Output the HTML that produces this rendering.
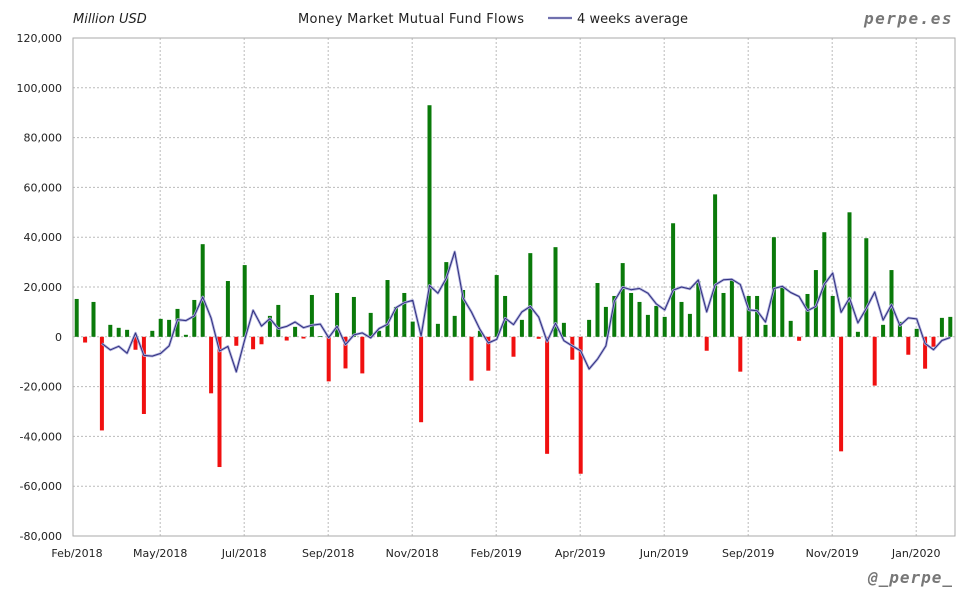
<!DOCTYPE html>
<html><head><meta charset="utf-8"><style>
body{margin:0;background:#fff;}
svg{display:block;font-family:"DejaVu Sans","Liberation Sans",sans-serif;}
</style></head><body>
<svg id="chart" width="980" height="600" viewBox="0 0 980 600" xmlns="http://www.w3.org/2000/svg">
<text x="73" y="23" font-size="13" font-style="italic" fill="#222">Million USD</text>
<text x="298" y="23" font-size="13" fill="#222" textLength="226">Money Market Mutual Fund Flows</text>
<g>
<line x1="548" y1="18" x2="572" y2="18" stroke="#b0b0dc" stroke-width="2.6"/>
<line x1="548" y1="18" x2="572" y2="18" stroke="#303080" stroke-width="1"/>
<text x="577" y="23" font-size="13" fill="#222" textLength="111">4 weeks average</text>
</g>
<text x="953" y="24" text-anchor="end" font-size="16" font-weight="bold" font-style="italic" fill="#777" letter-spacing="1.5" font-family="DejaVu Sans Mono, Liberation Mono, monospace">perpe.es</text>
<text x="953" y="583" text-anchor="end" font-size="16" font-weight="bold" font-style="italic" fill="#777" letter-spacing="1" font-family="DejaVu Sans Mono, Liberation Mono, monospace">@_perpe_</text>
<g id="grid"></g>
<g id="bars"></g>
<g id="line"></g>
<g id="axes"></g>
</svg>
<script>
const flows = [15.2,-2.3,14,-37.6,4.8,3.6,2.8,-5.2,-31,2.4,7.2,6.8,11.2,0.8,14.8,37.2,-22.7,-52.3,22.4,-3.6,28.8,-5,-3,8.4,12.8,-1.5,4,-0.7,16.8,0.3,-17.9,17.6,-12.7,16,
-14.7,9.6,2.4,22.8,12,17.6,6.1,-34.3,93,5.2,30,8.4,18.8,-17.6,2.4,-13.6,24.8,16.4,-8,6.8,33.6,-0.8,-47,36,5.6,-9.2,-55,6.8,21.6,12,16.4,29.6,17.6,14,8.8,
12.4,8,45.6,14,9.2,22.4,-5.6,57.2,17.6,23.2,-14,16.4,16.4,4.8,40,20,6.4,-1.6,17.2,26.8,42,16.4,-46,50,2,39.6,-19.6,4.8,26.8,6,-7.2,3.2,-12.8,-4,7.6,8];
const yTicks = [120,100,80,60,40,20,0,-20,-40,-60,-80];
const xLabels = ["Feb/2018","May/2018","Jul/2018","Sep/2018","Nov/2018","Feb/2019","Apr/2019","Jun/2019","Sep/2019","Nov/2019","Jan/2020"];
const xLabelWeeks = [0,10,20,30,40,50,60,70,80,90,100];

const NS="http://www.w3.org/2000/svg";
const L=73,R=955,T=38,B=536;
const Y=v=>T+(120-v)*(B-T)/200;
const X=i=>76.7+i*8.4;
function mk(tag,attrs,parent){const e=document.createElementNS(NS,tag);for(const k in attrs)e.setAttribute(k,attrs[k]);parent.appendChild(e);return e;}
const grid=document.getElementById('grid'),bars=document.getElementById('bars'),line=document.getElementById('line'),axes=document.getElementById('axes');
yTicks.forEach(t=>{
  const y=Y(t);
  const g=mk('line',{x1:L,x2:R,y1:y,y2:y,stroke:'#bbb','stroke-width':1,'stroke-dasharray':'2,2'},grid);
  
  
  const tx=mk('text',{x:62,y:y+4,'text-anchor':'end','font-size':11,fill:'#222'},axes);
  tx.textContent=t===0?'0':(t<0?'-':'')+Math.abs(t)+',000';
  
  
});
xLabels.forEach((lab,k)=>{
  const x=X(xLabelWeeks[k])-0.5;
  if(k>0){
    const g=mk('line',{x1:x,x2:x,y1:T,y2:B,stroke:'#bbb','stroke-width':1,'stroke-dasharray':'2,2'},grid);
    
    
  }
  const tx=mk('text',{x:k===0?L+4:x,y:557,'text-anchor':'middle','font-size':11,fill:'#222'},axes);
  tx.textContent=lab;
  
  
});
const fr=mk('rect',{x:L,y:T,width:R-L,height:B-T,fill:'none',stroke:'#aaa','stroke-width':1},axes);


flows.forEach((v,i)=>{
  const y0=Y(0),y1=Y(v);
  const b=mk('rect',{x:X(i)-2,y:Math.min(y0,y1),width:4,height:Math.max(0.5,Math.abs(y1-y0)),fill:v>=0?'#0a7a0a':'#f01010'},bars);
  
  
});
const pts=[];
for(let i=3;i<flows.length;i++){const a=(flows[i]+flows[i-1]+flows[i-2]+flows[i-3])/4;pts.push(X(i).toFixed(1)+','+Y(a).toFixed(1));}
const halo=mk('polyline',{points:pts.join(' '),fill:'none',stroke:'#b0b0dc','stroke-width':2.6,'stroke-linejoin':'round'},line);


const ln=mk('polyline',{points:pts.join(' '),fill:'none',stroke:'#303080','stroke-width':1,'stroke-linejoin':'round'},line);


</script>
</body></html>
